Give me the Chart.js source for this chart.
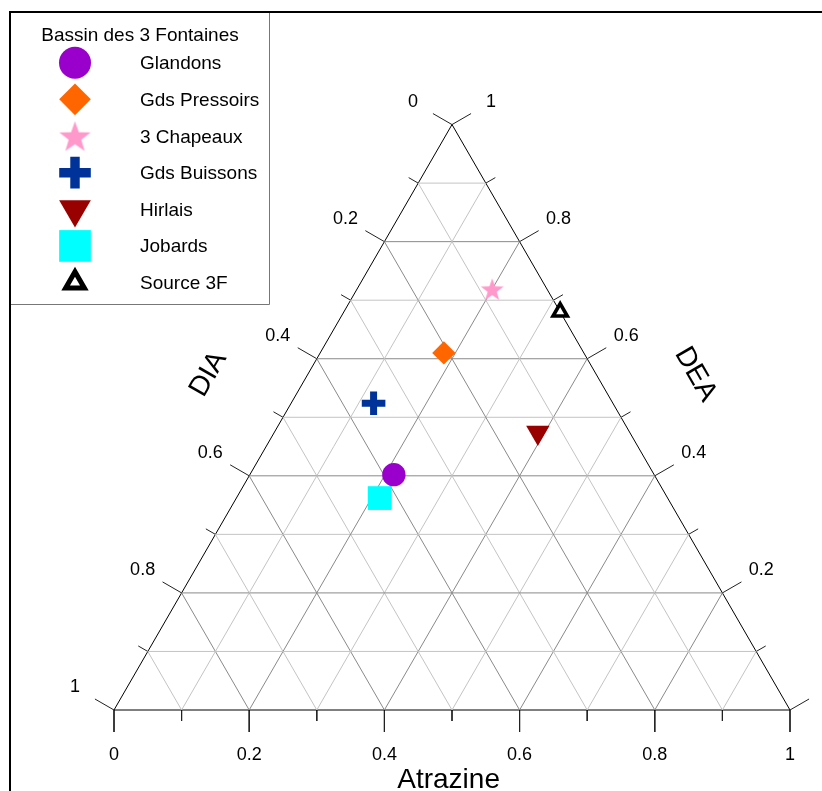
<!DOCTYPE html>
<html>
<head>
<meta charset="utf-8">
<script src="https://cdn.jsdelivr.net/npm/chart.js@4.4.0/dist/chart.umd.min.js"></script>
<style>
html, body { margin: 0; padding: 0; background: #fff; }
#wrap { width: 822px; height: 791px; }
</style>
</head>
<body>
<div id="wrap"><canvas id="c" width="822" height="791"></canvas></div>
<script>
// sampling sites, Bassin des 3 Fontaines (fractions, each row sums to 1)
const sites    = ['Glandons', 'Gds Pressoirs', '3 Chapeaux', 'Gds Buissons', 'Hirlais', 'Jobards', 'Source 3F'];
const atrazine = [0.213, 0.183, 0.200, 0.122, 0.390, 0.212, 0.320];
const dia      = [0.385, 0.207, 0.081, 0.354, 0.136, 0.426, 0.000];
const dea      = [0.402, 0.610, 0.719, 0.524, 0.474, 0.362, 0.680];

const tickValues = [0, 0.2, 0.4, 0.6, 0.8, 1];
const tickLabels = ['0', '0.2', '0.4', '0.6', '0.8', '1'];

const FONT = "'Liberation Sans', Arial, sans-serif";
const H = Math.sqrt(3) / 2;

// atrazine vertex bottom right, DIA bottom left, DEA at the top
function toXY(a, e) {
    return { x: a + e / 2, y: e * H };
}

function starCanvas(R) {
    var s = Math.ceil(2 * R + 2);
    var cv = document.createElement('canvas');
    cv.width = s; cv.height = s;
    var g = cv.getContext('2d');
    var cx = s / 2, cy = s / 2 + R * 0.1;
    var r = R * 0.4;
    g.beginPath();
    for (var i = 0; i < 10; i++) {
        var rr = (i % 2 == 0) ? R : r;
        var ang = -Math.PI / 2 + i * Math.PI / 5;
        var px = cx + rr * Math.cos(ang), py = cy + rr * Math.sin(ang);
        if (i == 0) g.moveTo(px, py); else g.lineTo(px, py);
    }
    g.closePath();
    g.fillStyle = '#FF99CC';
    g.fill();
    return cv;
}

// marker look, plot and legend
const markers = [
    { style: 'circle',  r: 11.7, lr: 16,   rot: 0,   bw: 0,   fill: '#9900CC', line: '#9900CC' },
    { style: 'rectRot', r: 11.7, lr: 15.8, rot: 0,   bw: 0,   fill: '#FF6600', line: '#FF6600' },
    { style: starCanvas(12), legendStyle: starCanvas(16.5), r: 12, lr: 16.5, rot: 0, bw: 0, fill: '#FF99CC', line: '#FF99CC' },
    { style: 'cross',   r: 11.8, lr: 15.8, rot: 0,   bw: 7,   fill: '#003399', line: '#003399' },
    { style: 'triangle', r: 13.5, lr: 18.3, rot: 180, bw: 0,  fill: '#990000', line: '#990000' },
    { style: 'rect',    r: 16.8, lr: 22.4, rot: 0,   bw: 0,   fill: '#00FFFF', line: '#00FFFF' },
    { style: 'triangle', r: 8.2, lr: 10.8, rot: 0,   bw: 3.6, lbw: 5, fill: '#FFFFFF', line: '#000000' }
];

const datasets = [];

sites.forEach(function (name, i) {
    var m = markers[i];
    datasets.push({
        label: name,
        data: [toXY(atrazine[i], dea[i])],
        pointStyle: m.style,
        pointRadius: m.r,
        pointRotation: m.rot,
        pointBorderWidth: m.bw,
        pointBackgroundColor: m.fill,
        pointBorderColor: m.line,
        showLine: false,
        order: 0
    });
});

function addLine(p1, p2, color) {
    datasets.push({
        label: '',
        data: [p1, p2],
        showLine: true,
        pointRadius: 0,
        borderColor: color,
        borderWidth: 1,
        fill: false,
        order: 2
    });
}

// grid every 0.1, darker every 0.2
for (var k = 1; k < 10; k++) {
    var v = k / 10;
    var col = (k % 2 == 0) ? '#8a8a8a' : '#c4c4c4';
    addLine(toXY(0, v), toXY(1 - v, v), col);       // DEA constant
    addLine(toXY(v, 0), toXY(v, 1 - v), col);       // atrazine constant
    addLine(toXY(1 - v, 0), toXY(0, 1 - v), col);   // DIA constant
}

// triangle sides
addLine(toXY(0, 0), toXY(1, 0), '#000');
addLine(toXY(0, 0), toXY(0, 1), '#000');
addLine(toXY(1, 0), toXY(0, 1), '#000');

// ticks, perpendicular to each side
const PX = 676;
for (var k = 0; k <= 10; k++) {
    var v = k / 10;
    var len = ((k % 2 == 0) ? 22 : 11) / PX;
    var b = toXY(v, 0);
    addLine(b, { x: b.x, y: b.y - len }, '#222');
    var l = toXY(0, 1 - v);
    addLine(l, { x: l.x - len * H, y: l.y + len * 0.5 }, '#222');
    var rp = toXY(1 - v, v);
    addLine(rp, { x: rp.x + len * H, y: rp.y + len * 0.5 }, '#222');
}

const ternaryDecor = {
    id: 'ternaryDecor',
    beforeDraw(chart) {
        var ctx = chart.ctx;
        ctx.save();
        ctx.fillStyle = '#fff';
        ctx.fillRect(0, 0, chart.width, chart.height);
        ctx.restore();
    },
    afterDraw(chart) {
        var ctx = chart.ctx;
        var sx = chart.scales.x, sy = chart.scales.y;
        function pix(a, e) {
            var p = toXY(a, e);
            return [sx.getPixelForValue(p.x), sy.getPixelForValue(p.y)];
        }
        ctx.save();
        ctx.fillStyle = '#000';
        ctx.font = '18px ' + FONT;
        ctx.textAlign = 'center';
        ctx.textBaseline = 'middle';
        var off = 45;
        tickValues.forEach(function (v, i) {
            var p = pix(v, 0);
            ctx.fillText(tickLabels[i], p[0], p[1] + off);
            p = pix(0, 1 - v);
            ctx.fillText(tickLabels[i], p[0] - off * H, p[1] - off * 0.5);
            p = pix(1 - v, v);
            ctx.fillText(tickLabels[i], p[0] + off * H, p[1] - off * 0.5);
        });

        // axis titles
        ctx.font = '28px ' + FONT;
        var p = pix(0.495, 0);
        ctx.fillText('Atrazine', p[0], p[1] + 70);
        p = pix(0, 0.5);
        ctx.save();
        ctx.translate(p[0] - 86 * H, p[1] - 86 * 0.5);
        ctx.rotate(-Math.PI / 3);
        ctx.fillText('DIA', 0, 0);
        ctx.restore();
        p = pix(0.5, 0.5);
        ctx.save();
        ctx.translate(p[0] + 86 * H, p[1] - 86 * 0.5);
        ctx.rotate(Math.PI / 3);
        ctx.fillText('DEA', 0, 0);
        ctx.restore();

        // outer frame
        ctx.strokeStyle = '#000';
        ctx.lineWidth = 2;
        ctx.beginPath();
        ctx.moveTo(9, 12); ctx.lineTo(822, 12);
        ctx.moveTo(10, 11); ctx.lineTo(10, 791);
        ctx.stroke();

        // legend box
        ctx.strokeStyle = '#777';
        ctx.lineWidth = 1;
        ctx.beginPath();
        ctx.moveTo(269.5, 13); ctx.lineTo(269.5, 304.5);
        ctx.lineTo(11, 304.5);
        ctx.stroke();

        ctx.font = '19px ' + FONT;
        ctx.textBaseline = 'alphabetic';
        ctx.textAlign = 'center';
        ctx.fillText('Bassin des 3 Fontaines', 140, 41);
        ctx.textAlign = 'left';
        sites.forEach(function (name, i) {
            var m = markers[i];
            var y = 62.7 + i * 36.65;
            ctx.fillStyle = '#000';
            ctx.fillText(name, 140, y + 6.5);
            ctx.save();
            ctx.fillStyle = m.fill;
            ctx.strokeStyle = m.line;
            var bw = m.lbw || (m.bw ? m.bw * 1.35 : 0);
            ctx.lineWidth = bw;
            Chart.helpers.drawPoint(ctx, {
                pointStyle: m.legendStyle || m.style,
                radius: m.lr,
                rotation: m.rot,
                borderWidth: bw
            }, 75, y);
            ctx.restore();
        });
        ctx.restore();
    }
};

new Chart(document.getElementById('c'), {
    type: 'scatter',
    data: { datasets: datasets },
    options: {
        responsive: false,
        animation: false,
        events: [],
        layout: { padding: 0, autoPadding: false },
        plugins: { legend: { display: false }, tooltip: { enabled: false } },
        scales: {
            x: { type: 'linear', display: false, min: -114 / PX, max: -114 / PX + 822 / PX },
            y: { type: 'linear', display: false, min: -81 / PX, max: -81 / PX + 791 / PX }
        }
    },
    plugins: [ternaryDecor]
});
</script>
</body>
</html>
